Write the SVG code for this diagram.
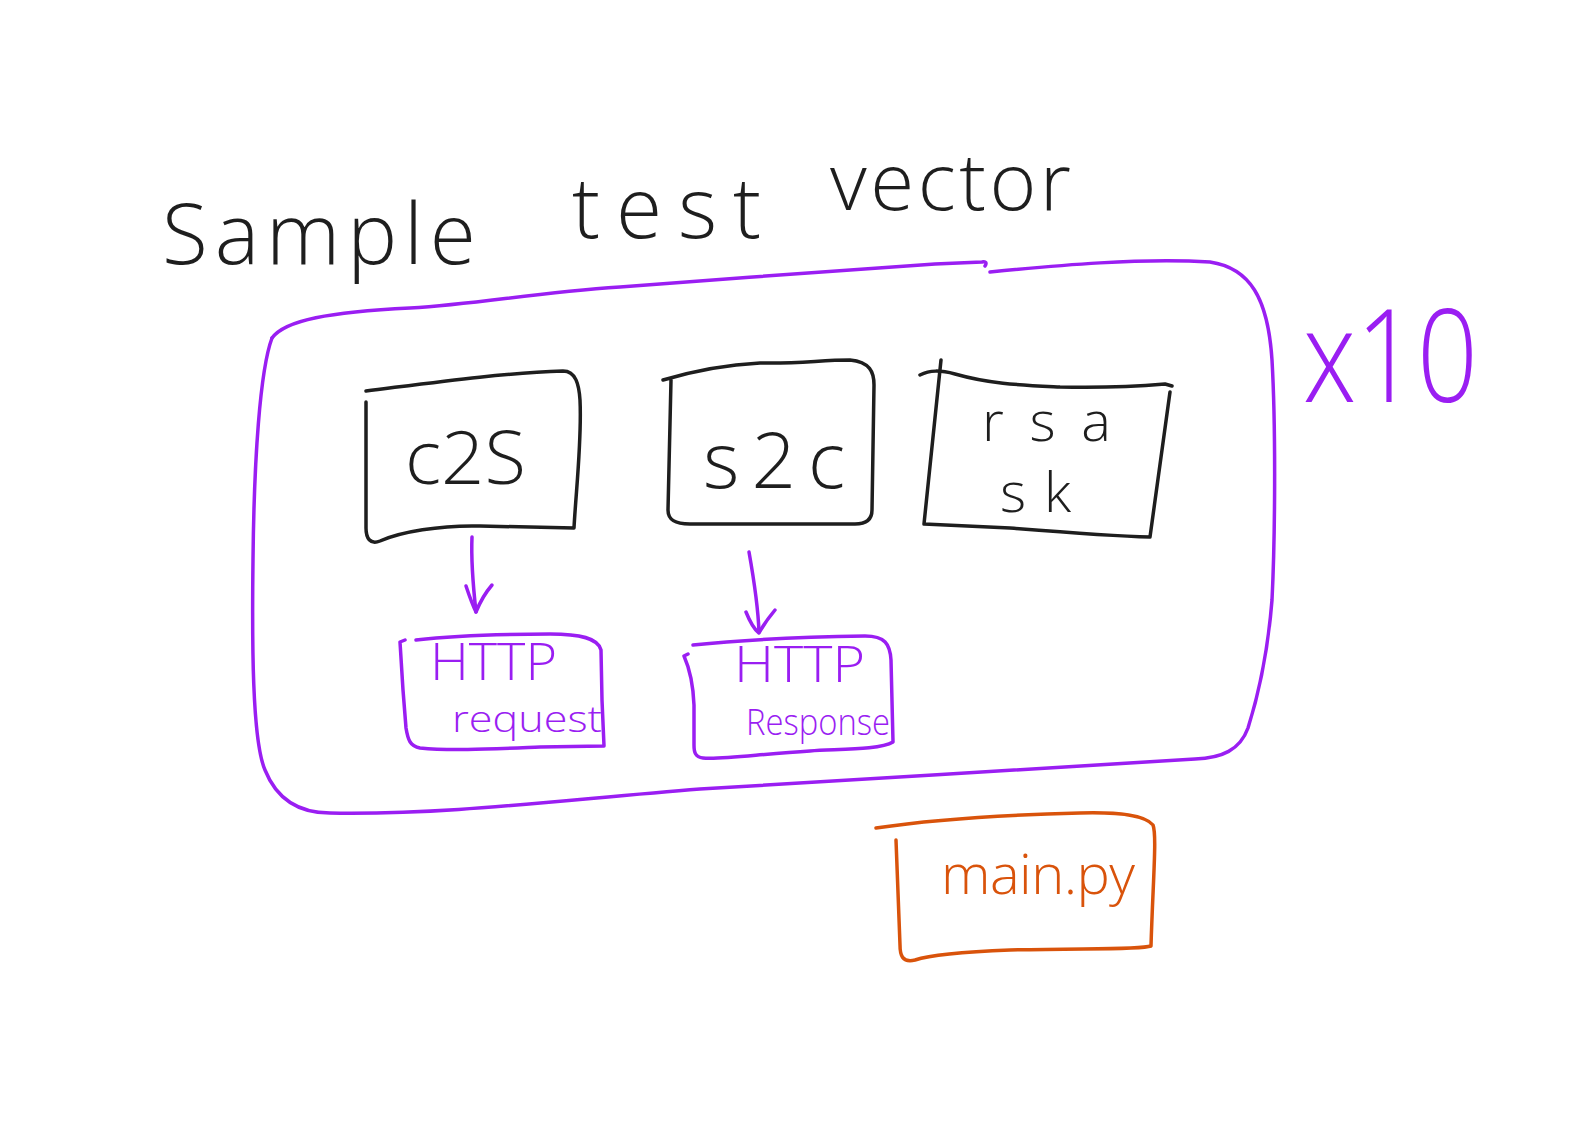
<svg xmlns="http://www.w3.org/2000/svg" width="1587" height="1123" viewBox="0 0 1587 1123">
<style>
  .ink { fill: none; stroke-linecap: round; stroke-linejoin: round; stroke-width: 3.5; }
  .blk { stroke: #1e1e1e; }
  .pur { stroke: #9a1ef2; }
  .org { stroke: #d9530b; }
  text { font-family: "Open Sans", "Liberation Sans", Arial, sans-serif; font-weight: 300; }
  .tb { fill: #1e1e1e; }
  .tp { fill: #9a1ef2; }
  .to { fill: #d9530b; }
</style>
<rect width="1587" height="1123" fill="#ffffff"/>

<g id="title">
  <text class="tb" x="162" y="264" font-size="84" textLength="314" lengthAdjust="spacing">Sample</text>
  <text class="tb" x="572" y="238" font-size="84" textLength="189" lengthAdjust="spacing">test</text>
  <text class="tb" x="830" y="210" font-size="80" textLength="241" lengthAdjust="spacing">vector</text>
</g>

<g id="loop-group">
  <path class="ink pur" d="M272 338 C285 320 330 312 410 308 C480 304 530 293 620 287 C720 279 850 270 935 264 L982 262 C986 261 987 263 985 266"/>
  <path class="ink pur" d="M990 272 C1060 265 1140 258 1210 262 C1250 268 1268 298 1272 360 C1276 430 1275 540 1272 600 C1268 650 1260 690 1248 728 C1240 750 1222 758 1195 759 C1050 768 850 780 700 789 C560 800 450 815 330 813 C295 813 275 795 265 770 C252 740 252 640 253 560 C254 460 260 370 272 338"/>
  <text class="tp" x="1303" y="402" font-size="130" textLength="175" lengthAdjust="spacingAndGlyphs">x10</text>
</g>

<g id="node-c2s">
  <path class="ink blk" d="M366 391 C430 383 500 373 563 371 C576 371 579 385 580 400 C582 440 576 490 574 528 L480 526 C440 525 400 532 380 541 C370 545 366 538 366 528 L366 402"/>
  <text class="tb" x="405" y="484" font-size="74" textLength="121" lengthAdjust="spacingAndGlyphs">c2S</text>
</g>

<g id="node-s2c">
  <path class="ink blk" d="M663 380 C690 372 720 365 760 363 C800 364 820 360 850 360 C870 362 874 372 874 385 L872 510 C872 520 865 524 855 524 L690 524 C675 524 668 520 668 510 L671 380"/>
  <text class="tb" x="703" y="488" font-size="78" textLength="142" lengthAdjust="spacing">s2c</text>
</g>

<g id="node-rsa-sk">
  <path class="ink blk" d="M920 375 C930 370 940 370 955 374 C990 384 1020 385 1060 387 C1100 388 1130 387 1165 384 L1172 386"/>
  <path class="ink blk" d="M941 360 L924 524 L1010 528 C1060 532 1110 536 1150 537 L1170 392"/>
  <text class="tb" x="982" y="441" font-size="56" textLength="129" lengthAdjust="spacing">rsa</text>
  <text class="tb" x="1000" y="512" font-size="56" textLength="71" lengthAdjust="spacing">sk</text>
</g>

<g id="node-http-request">
  <path class="ink pur" d="M416 640 C450 636 490 634 550 634 C580 634 598 638 601 650 L602 700 L604 746 L540 747 C490 749 450 751 420 748 C410 746 408 740 406 728 L403 690 L400 642 L405 640"/>
  <text class="tp" x="430" y="680" font-size="52" textLength="127" lengthAdjust="spacingAndGlyphs">HTTP</text>
  <text class="tp" x="452" y="732" font-size="36" textLength="150" lengthAdjust="spacingAndGlyphs">request</text>
</g>

<g id="node-http-response">
  <path class="ink pur" d="M693 645 C740 640 800 637 865 636 C885 636 890 644 891 660 L893 742 C880 750 840 749 810 751 C760 754 720 760 703 758 C695 757 694 752 694 745 L694 705 C693 680 688 665 684 656 L688 654"/>
  <text class="tp" x="734" y="682" font-size="50" textLength="131" lengthAdjust="spacingAndGlyphs">HTTP</text>
  <text class="tp" x="746" y="735" font-size="36" textLength="144" lengthAdjust="spacingAndGlyphs">Response</text>
</g>

<g id="node-main-py">
  <path class="ink org" d="M876 828 C930 820 1000 815 1080 813 C1120 812 1145 815 1153 825 C1157 835 1153 880 1151 946 C1140 950 1080 948 1010 950 C960 952 930 955 915 960 C902 963 900 955 900 945 L896 840"/>
  <text class="to" x="941" y="894" font-size="56" textLength="194" lengthAdjust="spacing">main.py</text>
</g>

<g id="connectors">
  <path class="ink pur" d="M472 537 C471 560 473 585 476 612"/>
  <path class="ink pur" d="M466 586 C470 598 473 606 476 612 C480 602 486 592 492 585"/>
  <path class="ink pur" d="M749 552 C754 580 758 605 759 632"/>
  <path class="ink pur" d="M746 612 C750 622 755 630 759 633 C764 624 770 616 775 610"/>
</g>
</svg>
